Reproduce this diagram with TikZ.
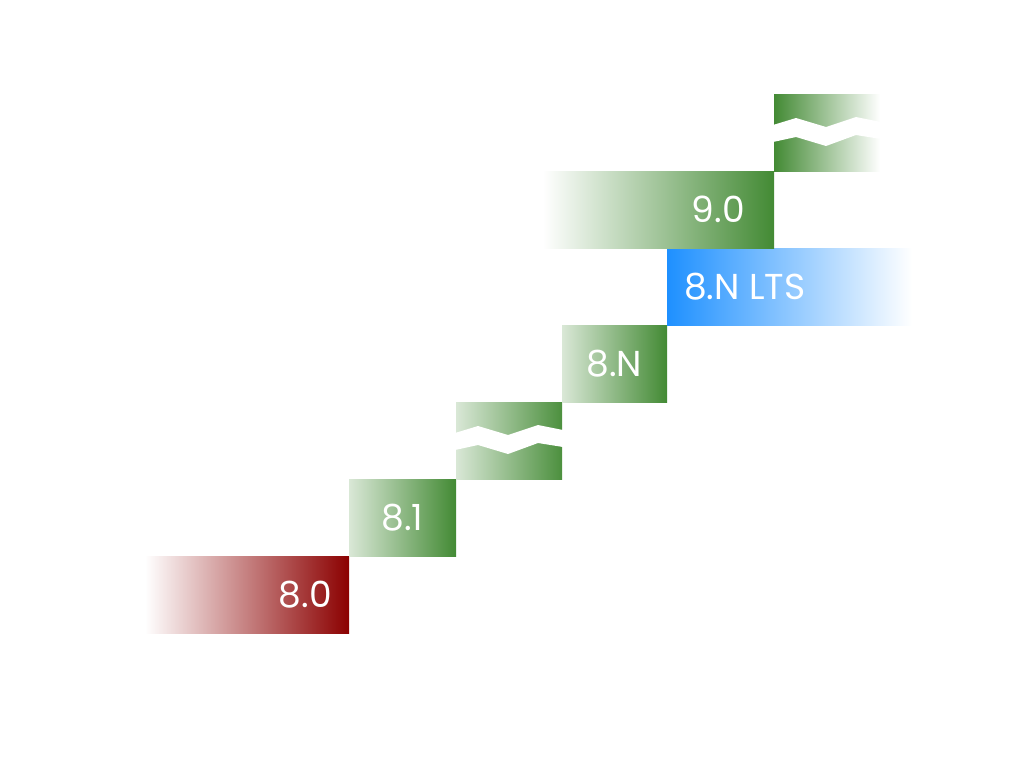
\documentclass[tikz,border=0pt]{standalone}
\usepackage{fontspec}
\setmainfont{Poppins}
\usepackage{xcolor}
\usetikzlibrary{positioning}
\definecolor{stepgreen}{RGB}{67,138,52}
\definecolor{stepred}{RGB}{139,0,0}
\definecolor{stepblue}{RGB}{30,144,255}

\begin{document}
\begin{tikzpicture}[x=1pt, y=-1pt, stepbox/.style={rectangle,inner sep=0pt,outer sep=0pt,minimum width=107pt,minimum height=77pt}, lbl/.style={inner sep=0pt,text=white,font=\fontsize{36}{36}\selectfont}, wavecut/.style={fill=white}]
	\useasboundingbox (0,0) rectangle (1024,763);
	\node[stepbox, minimum width=204pt, left color=white, right color=stepred, anchor=north west] (v80) at (145,556) {};
	\node[stepbox, left color=stepgreen!20, right color=stepgreen] (v81) [above right=0pt and 0pt of v80] {};
	\node[stepbox, minimum width=106pt, left color=stepgreen!20, right color=stepgreen!95] (gaplow) [above right=0pt and 0pt of v81] {};
	\node[stepbox, minimum width=105pt, left color=stepgreen!20, right color=stepgreen] (v8n) [above right=0pt and 0pt of gaplow] {};
	\node[stepbox, minimum width=245pt, left color=stepblue, right color=white] (lts) [above right=0pt and 0pt of v8n] {};
	\node[stepbox, minimum width=231pt, left color=white, right color=stepgreen, anchor=south east] (v90) at ([xshift=107pt]lts.north west) {};
	\node[stepbox, minimum width=106pt, left color=stepgreen, right color=white] (gaptop) [above right=0pt and 0pt of v90] {};
	\foreach \g in {gaplow,gaptop}
		\fill[wavecut, shift={(\g.north west)}] (-1,31) -- (22,24) -- (52,33) -- (82,23) -- (107,28) -- (107,45) -- (82,41) -- (52,52) -- (22,43) -- (-1,48) -- cycle;
	\node[lbl, left=17pt of v80.east] (t80) {8.0};
	\node[lbl] (t81) at (v81) {8.1};
	\node[lbl] (t8n) at (v8n) {8.N};
	\node[lbl, right=17pt of lts.west] (tlts) {8.N LTS};
	\node[lbl, left=29pt of v90.east] (t90) {9.0};
\end{tikzpicture}
\end{document}
